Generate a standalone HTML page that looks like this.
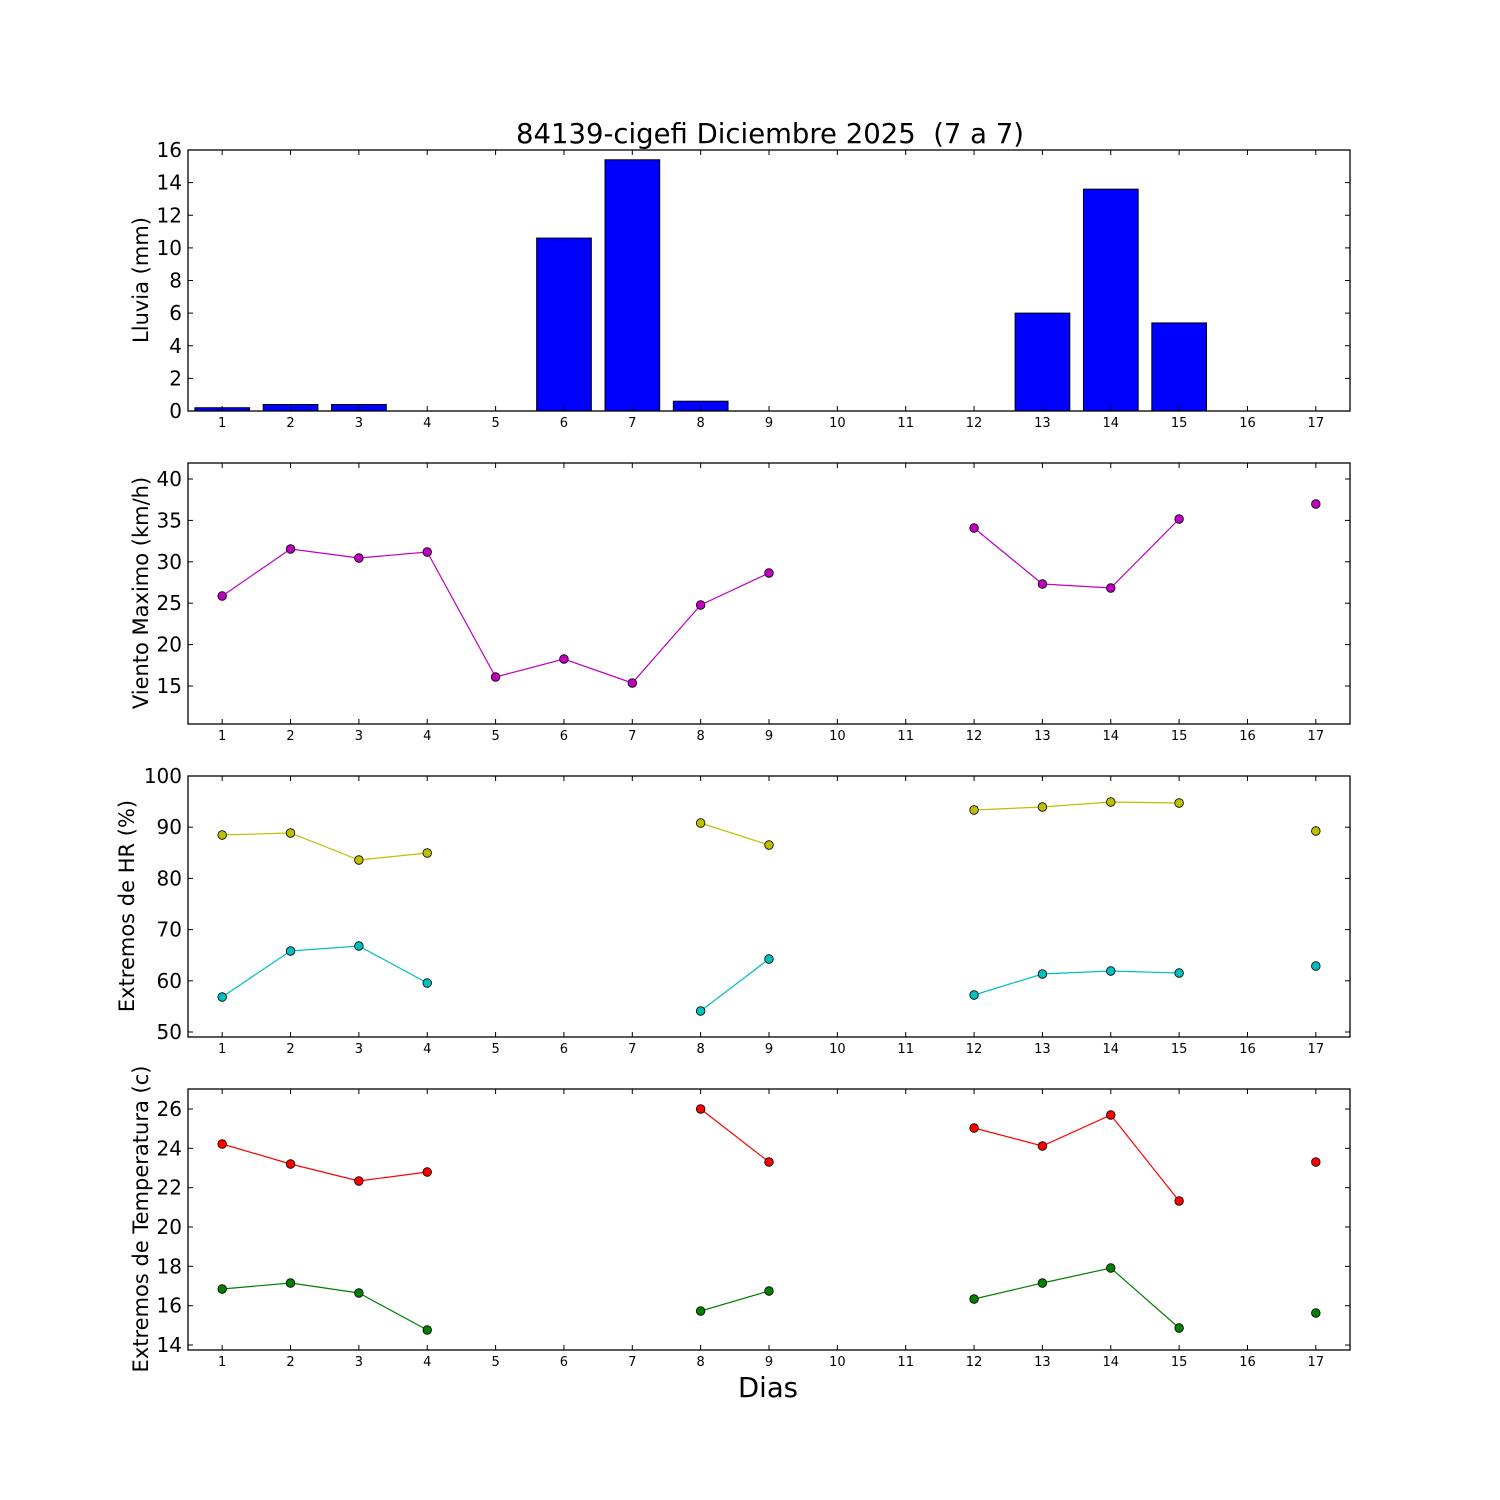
<!DOCTYPE html>
<html><head><meta charset="utf-8"><style>body{margin:0;background:#fff}svg{display:block}text{font-family:"DejaVu Sans","Liberation Sans",sans-serif}</style></head>
<body>
<svg id="s" width="1500" height="1500" xmlns="http://www.w3.org/2000/svg">
<rect width="1500" height="1500" fill="#fff"/>
<text x="770" y="143" font-size="27.5" text-anchor="middle" xml:space="preserve">84139-cigefi Diciembre 2025&#160; (7 a 7)</text>
<text x="768" y="1397" font-size="27.5" text-anchor="middle">Dias</text>
<text transform="translate(148,280) rotate(-90)" font-size="21" text-anchor="middle">Lluvia (mm)</text>
<text transform="translate(148,593) rotate(-90)" font-size="21" text-anchor="middle">Viento Maximo (km/h)</text>
<text transform="translate(134,906) rotate(-90)" font-size="21" text-anchor="middle">Extremos de HR (%)</text>
<text transform="translate(148,1219) rotate(-90)" font-size="21" text-anchor="middle">Extremos de Temperatura (c)</text>
</svg>
<script>
var s=document.getElementById('s'),h='';
function X(d){return 188+(d-0.5)*68.353;}
var tops=[150,463,776,1089];
var rain=[0.2,0.4,0.4,0,0,10.6,15.4,0.6,0,0,0,0,6.0,13.6,5.4,0,0];
rain.forEach(function(v,i){var y=411-v*16.3125;h+='<rect x="'+(X(i+1)-27.3)+'" y="'+y+'" width="54.7" height="'+(411-y)+'" fill="#0000ff" stroke="#000" stroke-width="1"/>';});
function series(pts,col){var segs=[],cur=[];for(var i=0;i<pts.length;i++){var p=pts[i];if(cur.length&&p[0]!=cur[cur.length-1][0]+1){segs.push(cur);cur=[];}cur.push(p);}segs.push(cur);
segs.forEach(function(sg){if(sg.length>1)h+='<polyline fill="none" stroke="'+col+'" stroke-width="1.2" points="'+sg.map(function(p){return X(p[0])+','+p[1]}).join(' ')+'"/>';});
pts.forEach(function(p){h+='<circle cx="'+X(p[0])+'" cy="'+p[1]+'" r="4.3" fill="'+col+'" stroke="#000" stroke-width="0.8"/>';});}
series([[1,596],[2,549],[3,558],[4,552],[5,677],[6,659],[7,683],[8,605],[9,573],[12,528],[13,584],[14,588],[15,519],[17,504]],'#bf00bf');
series([[1,835],[2,833],[3,860],[4,853],[8,823],[9,845],[12,810],[13,807],[14,802],[15,803],[17,831]],'#bfbf00');
series([[1,997],[2,951],[3,946],[4,983],[8,1011],[9,959],[12,995],[13,974],[14,971],[15,973],[17,966]],'#00bfbf');
series([[1,1144],[2,1164],[3,1181],[4,1172],[8,1109],[9,1162],[12,1128],[13,1146],[14,1115],[15,1201],[17,1162]],'#ff0000');
series([[1,1289],[2,1283],[3,1293],[4,1330],[8,1311],[9,1291],[12,1299],[13,1283],[14,1268],[15,1328],[17,1313]],'#008000');
var yt=[
 [[0,411],[2,378.4],[4,345.75],[6,313.1],[8,280.5],[10,247.9],[12,215.25],[14,182.6],[16,150]],
 [[15,686],[20,644.6],[25,603.2],[30,561.8],[35,520.4],[40,479]],
 [[50,1032],[60,980.8],[70,929.6],[80,878.4],[90,827.2],[100,776]],
 [[14,1345],[16,1305.7],[18,1266.3],[20,1227],[22,1187.7],[24,1148.3],[26,1109]]];
tops.forEach(function(t,k){var b=t+261;
 h+='<rect x="188" y="'+t+'" width="1162" height="261" fill="none" stroke="#000" stroke-width="1.3"/>';
 for(var d=1;d<=17;d++){var x=X(d);h+='<line x1="'+x+'" y1="'+b+'" x2="'+x+'" y2="'+(b-5)+'" stroke="#000"/><line x1="'+x+'" y1="'+t+'" x2="'+x+'" y2="'+(t+5)+'" stroke="#000"/>';
  h+='<text x="'+x+'" y="'+(b+16)+'" font-size="13" text-anchor="middle">'+d+'</text>';}
 yt[k].forEach(function(v){h+='<line x1="188" y1="'+v[1]+'" x2="193" y2="'+v[1]+'" stroke="#000"/><line x1="1350" y1="'+v[1]+'" x2="1345" y2="'+v[1]+'" stroke="#000"/>';
  h+='<text x="182" y="'+(v[1]+7)+'" font-size="20" text-anchor="end">'+v[0]+'</text>';});
});
s.insertAdjacentHTML('beforeend',h);
</script>
</body></html>
